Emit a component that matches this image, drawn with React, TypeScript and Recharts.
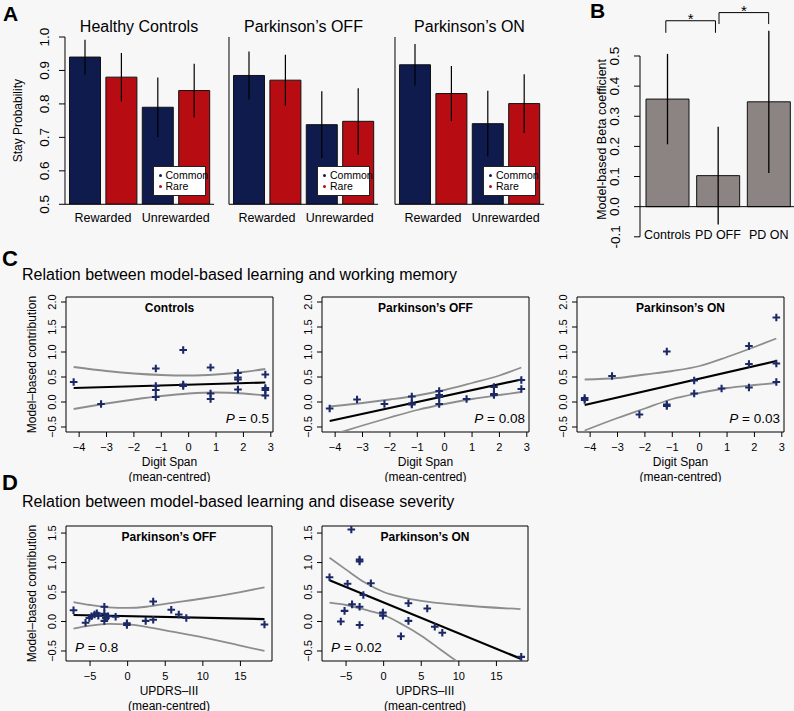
import React from 'react';
import {
  BarChart,
  Bar,
  XAxis,
  YAxis,
  ErrorBar,
  Legend,
  ReferenceLine,
  ReferenceArea,
  ComposedChart,
  Scatter,
  Line,
} from 'recharts';

const FONT = '"Liberation Sans", Arial, Helvetica, sans-serif';
const BG = '#f8f7f8';
const NAVY = '#0e1b4c';
const RED = '#b80c13';
const TAUPE = '#8b8482';
const POINT = '#1b2a66';
const BAND = '#8d8d8d';

// ---------- A: stay probabilities ----------
const trialTypes = ['Rewarded', 'Unrewarded'];
const groupTitles = ['Healthy Controls', 'Parkinson’s OFF', 'Parkinson’s ON'];
const stayTicks = [0.5, 0.6, 0.7, 0.8, 0.9, 1.0];

const hcCommon = [0.94, 0.79];
const hcRare = [0.88, 0.84];
const hcCommonErr = [0.052, 0.089];
const hcRareErr = [0.072, 0.08];

const offCommon = [0.885, 0.738];
const offRare = [0.871, 0.748];
const offCommonErr = [0.072, 0.1];
const offRareErr = [0.076, 0.099];

const onCommon = [0.917, 0.741];
const onRare = [0.831, 0.801];
const onCommonErr = [0.062, 0.098];
const onRareErr = [0.082, 0.088];

// ---------- B: model-based beta ----------
const pdGroups = ['Controls', 'PD OFF', 'PD ON'];
const betaMB = [0.357, 0.103, 0.348];
const betaErr = [0.15, 0.162, 0.236];
const betaTicks = [-0.1, 0, 0.1, 0.2, 0.3, 0.4, 0.5];
// significance brackets, x in group units (group i is centred on i + 0.5)
const sigFrom = [0.47, 1.52];
const sigTo = [1.45, 2.5];
const sigTop = [0.617, 0.644];
const sigFoot = [0.577, 0.606];

// ---------- C: digit span ----------
const spanTicks = [-4, -3, -2, -1, 0, 1, 2, 3];
const contribTicks = [-0.5, 0, 0.5, 1, 1.5, 2];

const ctrlPoints = [
  [-4.2, 0.4], [-3.2, -0.04], [-1.2, 0.67], [-1.2, 0.32], [-1.2, 0.24], [-1.2, 0.1],
  [-0.2, 1.04], [-0.2, 0.35], [-0.2, 0.32], [0.8, 0.69], [0.8, 0.17], [0.8, 0.06],
  [1.8, 0.58], [1.8, 0.49], [1.8, 0.45], [1.8, 0.25], [2.8, 0.55], [2.8, 0.28], [2.8, 0.24], [2.8, 0.13],
];
const ctrlFit = [[-4.2, 0.28], [2.8, 0.39]];
const ctrlUpper = [[-4.2, 0.7], [-3, 0.62], [-2, 0.57], [-1, 0.54], [0, 0.53], [1, 0.55], [2, 0.6], [2.8, 0.66]];
const ctrlLower = [[-4.2, -0.14], [-3, -0.03], [-2, 0.05], [-1, 0.12], [0, 0.17], [1, 0.19], [2, 0.17], [2.8, 0.13]];

const offSpanPoints = [
  [-4.2, -0.13], [-3.2, 0.05], [-2.2, -0.04], [-1.2, 0.11], [-1.2, -0.03], [-1.2, -0.05],
  [-0.2, 0.22], [-0.2, 0.14], [-0.2, 0.1], [-0.2, -0.04], [0.8, 0.06], [1.8, 0.3], [1.8, 0.16],
  [1.8, 0.14], [2.8, 0.44], [2.8, 0.26],
];
const offSpanFit = [[-4.2, -0.38], [2.8, 0.45]];
const offSpanUpper = [[-4.2, -0.09], [-3, -0.02], [-2, 0.05], [-1, 0.13], [0, 0.24], [1, 0.38], [2, 0.53], [2.8, 0.69]];
const offSpanLower = [[-4.2, -0.67], [-3, -0.47], [-2, -0.31], [-1, -0.16], [0, -0.04], [1, 0.06], [2, 0.14], [2.8, 0.2]];

const onSpanPoints = [
  [-4.2, 0.08], [-4.2, 0.04], [-3.2, 0.52], [-2.2, -0.25], [-1.2, 1.01], [-1.2, -0.05], [-1.2, -0.08],
  [-0.2, 0.43], [-0.2, 0.17], [0.8, 0.27], [1.8, 1.12], [1.8, 0.76], [1.8, 0.29], [2.8, 1.69],
  [2.8, 0.77], [2.8, 0.4],
];
const onSpanFit = [[-4.2, -0.06], [2.8, 0.82]];
const onSpanUpper = [[-4.2, 0.45], [-3, 0.48], [-2, 0.55], [-1, 0.62], [0, 0.72], [1, 0.9], [2, 1.1], [2.8, 1.27]];
const onSpanLower = [[-4.2, -0.57], [-3, -0.32], [-2, -0.13], [-1, 0.06], [0, 0.18], [1, 0.28], [2, 0.34], [2.8, 0.38]];

// ---------- D: UPDRS-III ----------
const updrsTicks = [-5, 0, 5, 10, 15];
const contribTicksD = [-0.5, 0, 0.5, 1, 1.5];

const offSevPoints = [
  [-7.2, 0.19], [-5.6, -0.02], [-5.1, 0.06], [-4.8, 0.09], [-4.4, 0.12], [-4.1, 0.14], [-3.9, 0.1],
  [-3.1, 0.25], [-3.1, 0.13], [-3.1, 0.01], [-2.9, 0.06], [-2.6, 0.09], [-1.6, 0.08], [-0.1, -0.03],
  [-0.1, -0.06], [2.4, 0.01], [3.4, 0.34], [3.4, 0.03], [5.8, 0.2], [6.8, 0.12], [7.8, 0.06], [18.2, -0.05],
];
const offSevFit = [[-7.2, 0.11], [18.2, 0.04]];
const offSevUpper = [[-7.2, 0.33], [-5, 0.28], [-2.5, 0.24], [0, 0.23], [2.5, 0.25], [5, 0.3], [10, 0.39], [15, 0.5], [18.2, 0.58]];
const offSevLower = [[-7.2, -0.12], [-5, -0.07], [-2.5, -0.04], [0, -0.05], [2.5, -0.09], [5, -0.15], [10, -0.27], [15, -0.41], [18.2, -0.5]];

const onSevPoints = [
  [-7.2, 0.75], [-5.7, 0.0], [-5.2, 0.18], [-4.8, 0.64], [-4.3, 1.56], [-4.2, 0.29], [-3.2, 1.05],
  [-3.2, 1.02], [-3.2, 0.25], [-3.2, -0.06], [-2.7, 0.45], [-1.7, 0.65], [-0.1, 0.15], [-0.1, 0.1],
  [2.3, -0.25], [3.3, 0.31], [3.3, 0.01], [5.8, 0.22], [6.8, -0.09], [7.8, -0.19], [18.3, -0.6],
];
const onSevFit = [[-7.2, 0.7], [18.2, -0.63]];
const onSevUpper = [[-7.2, 1.08], [-5, 0.88], [-2.5, 0.66], [0, 0.5], [2.5, 0.41], [5, 0.35], [10, 0.28], [18.2, 0.21]];
const onSevLower = [[-7.2, 0.32], [-5, 0.28], [-2.5, 0.2], [0, 0.11], [2.5, -0.05], [5, -0.24], [7.5, -0.47], [10, -0.7]];

// ---------- derived tables ----------
const stayData = [
  [hcCommon, hcRare, hcCommonErr, hcRareErr],
  [offCommon, offRare, offCommonErr, offRareErr],
  [onCommon, onRare, onCommonErr, onRareErr],
].map(([c, r, ce, re]) =>
  trialTypes.map((trial, i) => ({ trial, common: c[i], rare: r[i], commonErr: ce[i], rareErr: re[i] })),
);

const betaData = pdGroups.map((group, i) => ({ group, pos: i + 0.5, beta: betaMB[i], err: betaErr[i] }));

const toXY = (pts: number[][]) => pts.map(([x, y]) => ({ x, y }));

const fmt1 = (v: number) => (v < 0 ? '−' : '') + Math.abs(v).toFixed(1);
const fmtInt = (v: number) => (v < 0 ? '−' : '') + Math.abs(v);

// layout
const STAY_AXIS_X = [64.5, 229, 395];
const STAY_TOP = 36.7;
const STAY_H = 167.3;
const STAY_W = 149.1;

function VTick({ x, y, payload, size, fmt }: any) {
  return (
    <text
      x={x}
      y={y}
      transform={`rotate(-90 ${x} ${y})`}
      textAnchor="middle"
      dominantBaseline="central"
      fontSize={size}
      fontFamily={FONT}
      fill="#000"
    >
      {fmt(payload.value)}
    </text>
  );
}

function YTitle({ viewBox, dx, dy = 0, text, size }: any) {
  const x = viewBox.x + dx;
  const y = viewBox.y + viewBox.height / 2 + dy;
  return (
    <text
      x={x}
      y={y}
      transform={`rotate(-90 ${x} ${y})`}
      textAnchor="middle"
      dominantBaseline="central"
      fontSize={size}
      fontFamily={FONT}
      fill="#000"
    >
      {text}
    </text>
  );
}

function XTitle({ viewBox, lines }: any) {
  const cx = viewBox.x + viewBox.width / 2;
  return (
    <g>
      {lines.map((t: string, i: number) => (
        <text key={t} x={cx} y={viewBox.y + 34 + i * 14.5} textAnchor="middle" fontSize={12} fontFamily={FONT} fill="#000">
          {t}
        </text>
      ))}
    </g>
  );
}

function StayLegend({ payload }: any) {
  return (
    <div
      style={{
        width: 53,
        height: 30,
        boxSizing: 'border-box',
        border: '1px solid #222',
        background: '#fff',
        fontFamily: FONT,
        fontSize: 10.5,
        lineHeight: '11px',
        padding: '3.5px 0 0 5px',
        whiteSpace: 'nowrap',
        color: '#000',
      }}
    >
      {(payload || []).map((e: any) => (
        <div key={e.value}>
          <span
            style={{
              display: 'inline-block',
              width: 3,
              height: 3,
              borderRadius: '50%',
              background: e.color,
              verticalAlign: 'middle',
              marginRight: 4,
              marginBottom: 2,
            }}
          />
          {e.value}
        </div>
      ))}
    </div>
  );
}

function StayChart({ idx }: { idx: number }) {
  const yW = 60;
  const mt = 10;
  const axisX = STAY_AXIS_X[idx];
  return (
    <div style={{ position: 'absolute', left: axisX - yW, top: STAY_TOP - mt }}>
      <BarChart
        width={yW + STAY_W + 4}
        height={mt + STAY_H + 22}
        data={stayData[idx]}
        margin={{ top: mt, right: 4, bottom: 0, left: 0 }}
        barSize={31}
        barGap={5.4}
        barCategoryGap={2.7}
      >
        <XAxis
          dataKey="trial"
          height={22}
          interval={0}
          tickLine={false}
          tickSize={0}
          tickMargin={9}
          padding={{ left: 1.5, right: 2 }}
          axisLine={{ stroke: '#000' }}
          tick={{ fill: '#000', fontSize: 12.5, fontFamily: FONT }}
        />
        <YAxis
          width={yW}
          domain={[0.5, 1]}
          allowDataOverflow
          ticks={stayTicks}
          interval={0}
          tickSize={6}
          tickMargin={14}
          axisLine={{ stroke: '#000' }}
          tickLine={{ stroke: '#000' }}
          tick={idx === 0 ? (p: any) => <VTick {...p} size={13.5} fmt={(v: number) => v.toFixed(1)} /> : false}
          label={
            idx === 0
              ? (p: any) => <YTitle viewBox={p.viewBox} dx={13.5} text="Stay Probability" size={12} />
              : undefined
          }
        />
        <Bar dataKey="common" name="Common" fill={NAVY} stroke="#111" strokeWidth={1} isAnimationActive={false}>
          <ErrorBar dataKey="commonErr" width={0} stroke="#000" strokeWidth={1.2} direction="y" />
        </Bar>
        <Bar dataKey="rare" name="Rare" fill={RED} stroke="#111" strokeWidth={1} isAnimationActive={false}>
          <ErrorBar dataKey="rareErr" width={0} stroke="#000" strokeWidth={1.2} direction="y" />
        </Bar>
        <Legend
          layout="horizontal"
          verticalAlign="middle"
          align="center"
          wrapperStyle={{ left: yW + 88, top: 166 - (STAY_TOP - mt), width: 53, height: 30 }}
          content={(p: any) => <StayLegend payload={p.payload} />}
        />
      </BarChart>
    </div>
  );
}

function BetaChart() {
  const yW = 45;
  const mt = 56;
  const plotH = 180.8;
  return (
    <div style={{ position: 'absolute', left: 640 - yW, top: 0 }}>
      <BarChart
        width={yW + 154}
        height={mt + plotH + 18}
        data={betaData}
        margin={{ top: mt, right: 0, bottom: 0, left: 0 }}
        barSize={43}
      >
        <XAxis
          dataKey="group"
          height={18}
          interval={0}
          axisLine={false}
          tickLine={false}
          tickSize={0}
          tickMargin={0}
          padding={{ left: 2, right: 0 }}
          tick={(p: any) => (
            <text x={p.x} y={p.y - 2} textAnchor="middle" dominantBaseline="central" fontSize={12.5} fontFamily={FONT} fill="#000">
              {p.payload.value}
            </text>
          )}
        />
        <XAxis
          xAxisId="pos"
          dataKey="pos"
          type="number"
          domain={[0, 3]}
          allowDataOverflow
          hide
          padding={{ left: 2, right: 0 }}
        />
        <YAxis
          width={yW}
          domain={[-0.1, 0.5]}
          allowDataOverflow
          ticks={betaTicks}
          interval={0}
          tickSize={6}
          tickMargin={19}
          axisLine={{ stroke: '#000' }}
          tickLine={{ stroke: '#000' }}
          tick={(p: any) => <VTick {...p} size={13.5} fmt={(v: number) => v.toFixed(1)} />}
          label={(p: any) => <YTitle viewBox={p.viewBox} dx={7} dy={-7} text="Model-based Beta coefficient" size={12.5} />}
        />
        <Bar dataKey="beta" fill={TAUPE} stroke="#111" strokeWidth={1} isAnimationActive={false}>
          <ErrorBar dataKey="err" width={0} stroke="#000" strokeWidth={1.3} direction="y" />
        </Bar>
        <ReferenceLine y={0} stroke="#000" strokeWidth={1} />
        {sigTop.map((top, i) => (
          <React.Fragment key={i}>
            <ReferenceLine
              xAxisId="pos"
              ifOverflow="visible"
              stroke="#000"
              segment={[{ x: sigFrom[i], y: sigFoot[i] }, { x: sigFrom[i], y: top }]}
            />
            <ReferenceLine
              xAxisId="pos"
              ifOverflow="visible"
              stroke="#000"
              segment={[{ x: sigFrom[i], y: top }, { x: sigTo[i], y: top }]}
              label={{ value: '*', position: 'top', offset: -3, fontSize: 15, fill: '#000', fontFamily: FONT }}
            />
            <ReferenceLine
              xAxisId="pos"
              ifOverflow="visible"
              stroke="#000"
              segment={[{ x: sigTo[i], y: top }, { x: sigTo[i], y: sigFoot[i] }]}
            />
          </React.Fragment>
        ))}
      </BarChart>
    </div>
  );
}

const Cross = (props: any) => {
  const { cx, cy } = props;
  if (cx == null || cy == null) return null;
  return (
    <path
      d={`M${cx - 3.8},${cy}H${cx + 3.8}M${cx},${cy - 3.8}V${cy + 3.8}`}
      stroke={POINT}
      strokeWidth={2.1}
      fill="none"
    />
  );
};

type Panel = {
  left: number;
  top: number;
  width: number;
  height: number;
  xDomain: number[];
  yDomain: number[];
  xTicks: number[];
  yTicks: number[];
  xTitle: string[];
  yTitle?: string;
  title: string;
  p: string;
  pSide: 'left' | 'right';
  points: number[][];
  fit: number[][];
  upper: number[][];
  lower: number[][];
};

const C_TOP = 297;
const D_TOP = 526;
const PANEL_H = 135;
const spanDomain = [-4.48, 3.08];
const contribDomain = [-0.6, 2.1];
const updrsDomain = [-8.2, 19.2];
const contribDomainD = [-0.67, 1.62];

const panels: Panel[] = [
  {
    left: 66, top: C_TOP, width: 207, height: PANEL_H, xDomain: spanDomain, yDomain: contribDomain,
    xTicks: spanTicks, yTicks: contribTicks, xTitle: ['Digit Span', '(mean-centred)'],
    yTitle: 'Model–based contribution', title: 'Controls', p: '0.5', pSide: 'right',
    points: ctrlPoints, fit: ctrlFit, upper: ctrlUpper, lower: ctrlLower,
  },
  {
    left: 322, top: C_TOP, width: 207, height: PANEL_H, xDomain: spanDomain, yDomain: contribDomain,
    xTicks: spanTicks, yTicks: contribTicks, xTitle: ['Digit Span', '(mean-centred)'],
    title: 'Parkinson’s OFF', p: '0.08', pSide: 'right',
    points: offSpanPoints, fit: offSpanFit, upper: offSpanUpper, lower: offSpanLower,
  },
  {
    left: 577, top: C_TOP, width: 207, height: PANEL_H, xDomain: spanDomain, yDomain: contribDomain,
    xTicks: spanTicks, yTicks: contribTicks, xTitle: ['Digit Span', '(mean-centred)'],
    title: 'Parkinson’s ON', p: '0.03', pSide: 'right',
    points: onSpanPoints, fit: onSpanFit, upper: onSpanUpper, lower: onSpanLower,
  },
  {
    left: 66, top: D_TOP, width: 206, height: PANEL_H, xDomain: updrsDomain, yDomain: contribDomainD,
    xTicks: updrsTicks, yTicks: contribTicksD, xTitle: ['UPDRS–III', '(mean-centred)'],
    yTitle: 'Model–based contribution', title: 'Parkinson’s OFF', p: '0.8', pSide: 'left',
    points: offSevPoints, fit: offSevFit, upper: offSevUpper, lower: offSevLower,
  },
  {
    left: 322, top: D_TOP, width: 206, height: PANEL_H, xDomain: updrsDomain, yDomain: contribDomainD,
    xTicks: updrsTicks, yTicks: contribTicksD, xTitle: ['UPDRS–III', '(mean-centred)'],
    title: 'Parkinson’s ON', p: '0.02', pSide: 'left',
    points: onSevPoints, fit: onSevFit, upper: onSevUpper, lower: onSevLower,
  },
];

function BoxText({ viewBox, title, p, side }: any) {
  const { x, y, width, height } = viewBox;
  return (
    <g fontFamily={FONT} fill="#000">
      <text x={x + width / 2} y={y + 15} textAnchor="middle" fontWeight="bold" fontSize={12}>
        {title}
      </text>
      <text
        x={side === 'right' ? x + width - 4 : x + 9}
        y={y + height - 9}
        textAnchor={side === 'right' ? 'end' : 'start'}
        fontSize={13.5}
      >
        <tspan fontStyle="italic">P</tspan> = {p}
      </text>
    </g>
  );
}

function ScatterPanel({ s }: { s: Panel }) {
  const yW = 60;
  const mt = 4;
  const xH = 50;
  return (
    <div style={{ position: 'absolute', left: s.left - yW, top: s.top - mt }}>
      <ComposedChart width={yW + s.width + 6} height={mt + s.height + xH} margin={{ top: mt, right: 6, bottom: 0, left: 0 }}>
        <XAxis
          type="number"
          dataKey="x"
          domain={s.xDomain}
          allowDataOverflow
          ticks={s.xTicks}
          interval={0}
          tickFormatter={fmtInt}
          height={xH}
          axisLine={false}
          tickSize={5}
          tickMargin={6}
          tickLine={{ stroke: '#000' }}
          tick={{ fill: '#000', fontSize: 11, fontFamily: FONT }}
          label={(p: any) => <XTitle viewBox={p.viewBox} lines={s.xTitle} />}
        />
        <YAxis
          type="number"
          dataKey="y"
          domain={s.yDomain}
          allowDataOverflow
          ticks={s.yTicks}
          interval={0}
          width={yW}
          axisLine={false}
          tickSize={5}
          tickMargin={9}
          tickLine={{ stroke: '#000' }}
          tick={(p: any) => <VTick {...p} size={11} fmt={fmt1} />}
          label={s.yTitle ? (p: any) => <YTitle viewBox={p.viewBox} dx={26} text={s.yTitle} size={12} /> : undefined}
        />
        <ReferenceArea
          x1={s.xDomain[0]}
          x2={s.xDomain[1]}
          y1={s.yDomain[0]}
          y2={s.yDomain[1]}
          ifOverflow="visible"
          fill="none"
          fillOpacity={0}
          stroke="#000"
          strokeWidth={1}
          label={(p: any) => <BoxText viewBox={p.viewBox} title={s.title} p={s.p} side={s.pSide} />}
        />
        <Line data={toXY(s.upper)} dataKey="y" type="monotone" stroke={BAND} strokeWidth={1.8} dot={false} isAnimationActive={false} />
        <Line data={toXY(s.lower)} dataKey="y" type="monotone" stroke={BAND} strokeWidth={1.8} dot={false} isAnimationActive={false} />
        <Line data={toXY(s.fit)} dataKey="y" type="linear" stroke="#000" strokeWidth={2.2} dot={false} isAnimationActive={false} />
        <Scatter data={toXY(s.points)} dataKey="y" fill={POINT} shape={Cross} isAnimationActive={false} />
      </ComposedChart>
    </div>
  );
}

export default function App() {
  return (
    <div style={{ position: 'relative', width: 794, height: 711, background: BG, overflow: 'hidden', fontFamily: FONT }}>
      <style>{`body{margin:0;background:${BG};}`}</style>
      <svg width={794} height={711} style={{ position: 'absolute', left: 0, top: 0 }} fontFamily={FONT} fill="#000">
        <text x={3} y={21} fontWeight="bold" fontSize={21}>A</text>
        <text x={590} y={18} fontWeight="bold" fontSize={21}>B</text>
        <text x={2} y={266} fontWeight="bold" fontSize={22}>C</text>
        <text x={2} y={490} fontWeight="bold" fontSize={22}>D</text>
        <text x={22} y={280} fontSize={16}>Relation between model-based learning and working memory</text>
        <text x={22} y={507} fontSize={16}>Relation between model-based learning and disease severity</text>
        {groupTitles.map((t, i) => (
          <text key={t} x={STAY_AXIS_X[i] + 74.5} y={32} textAnchor="middle" fontSize={16}>
            {t}
          </text>
        ))}
      </svg>
      {groupTitles.map((t, i) => (
        <StayChart key={t} idx={i} />
      ))}
      <BetaChart />
      {panels.map((s, i) => (
        <ScatterPanel key={i} s={s} />
      ))}
    </div>
  );
}
